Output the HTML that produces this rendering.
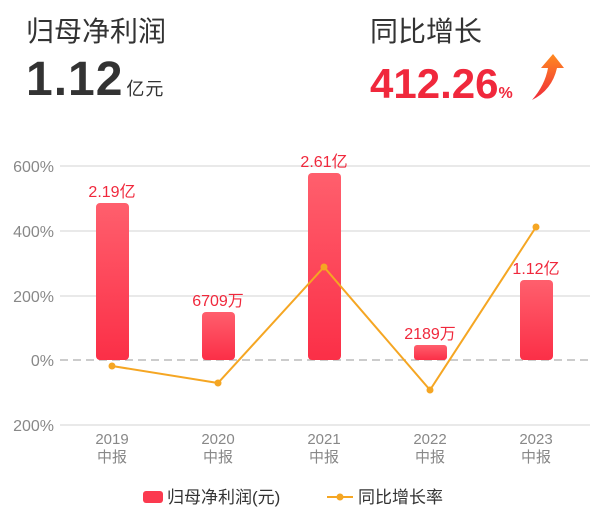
<!DOCTYPE html>
<html><head><meta charset="utf-8"><style>
body{margin:0;width:600px;height:522px;background:#fff;overflow:hidden;font-family:"Liberation Sans","Noto Sans CJK SC",sans-serif;}
.t{position:absolute;white-space:nowrap}
</style></head><body>
<div class="t" style="left:26px;top:10px;font-size:28px;color:#333">归母净利润</div>
<div class="t" style="left:26px;top:52px;font-size:48px;font-weight:bold;color:#333;letter-spacing:1px">1.12<span style="font-size:18px;font-weight:normal;margin-left:3px">亿元</span></div>
<div class="t" style="left:370px;top:10px;font-size:28px;color:#333">同比增长</div>
<div class="t" style="left:370px;top:60px;font-size:42px;font-weight:bold;color:#f0283c">412.26<span style="font-size:16px">%</span></div>
<svg style="position:absolute;left:0;top:0" width="600" height="522">
<defs>
<linearGradient id="g" x1="0" y1="0" x2="0" y2="1"><stop offset="0" stop-color="#ff5f6d"/><stop offset="1" stop-color="#fb2f47"/></linearGradient>
<linearGradient id="a" x1="0" y1="1" x2="0" y2="0"><stop offset="0" stop-color="#f02a3a"/><stop offset="1" stop-color="#ff8a20"/></linearGradient>
</defs>
<path d="M532 100 Q545 85 548 68 L541 68 L553 54 L564 68 L557 68 Q552 90 532 100Z" fill="url(#a)"/>
<g stroke="#e2e2e2" stroke-width="1.5">
<line x1="60" y1="166" x2="590" y2="166"/><line x1="60" y1="231" x2="590" y2="231"/><line x1="60" y1="296" x2="590" y2="296"/><line x1="60" y1="425" x2="590" y2="425"/>
</g>
<line x1="60" y1="360" x2="590" y2="360" stroke="#bbb" stroke-width="1.5" stroke-dasharray="8,5"/>
<g fill="#888" font-size="16" text-anchor="end">
<text x="54" y="172">600%</text><text x="54" y="237">400%</text><text x="54" y="302">200%</text><text x="54" y="366">0%</text><text x="54" y="431">200%</text>
</g>
<g fill="url(#g)">
<rect x="96" y="203" width="33" height="157" rx="4"/>
<rect x="202" y="312" width="33" height="48" rx="4"/>
<rect x="308" y="173" width="33" height="187" rx="4"/>
<rect x="414" y="345" width="33" height="15" rx="3"/>
<rect x="520" y="280" width="33" height="80" rx="4"/>
</g>
<g fill="#f0283c" font-size="16" text-anchor="middle">
<text x="112" y="197">2.19亿</text><text x="218" y="306">6709万</text><text x="324" y="167">2.61亿</text><text x="430" y="339">2189万</text><text x="536" y="274">1.12亿</text>
</g>
<polyline points="112,366 218,383 324,267 430,390 536,227" fill="none" stroke="#f5a623" stroke-width="2"/>
<g fill="#f5a623"><circle cx="112" cy="366" r="3.5"/><circle cx="218" cy="383" r="3.5"/><circle cx="324" cy="267" r="3.5"/><circle cx="430" cy="390" r="3.5"/><circle cx="536" cy="227" r="3.5"/></g>
<g fill="#888" font-size="15" text-anchor="middle">
<text x="112" y="444">2019</text><text x="112" y="462">中报</text>
<text x="218" y="444">2020</text><text x="218" y="462">中报</text>
<text x="324" y="444">2021</text><text x="324" y="462">中报</text>
<text x="430" y="444">2022</text><text x="430" y="462">中报</text>
<text x="536" y="444">2023</text><text x="536" y="462">中报</text>
</g>
<rect x="143" y="491" width="20" height="12" rx="3" fill="#fb3a4f"/>
<text x="167" y="503" font-size="17" fill="#333">归母净利润(元)</text>
<line x1="327" y1="497" x2="353" y2="497" stroke="#f5a623" stroke-width="2"/>
<circle cx="340" cy="497" r="3.5" fill="#f5a623"/>
<text x="358" y="503" font-size="17" fill="#333">同比增长率</text>
</svg>
</body></html>
